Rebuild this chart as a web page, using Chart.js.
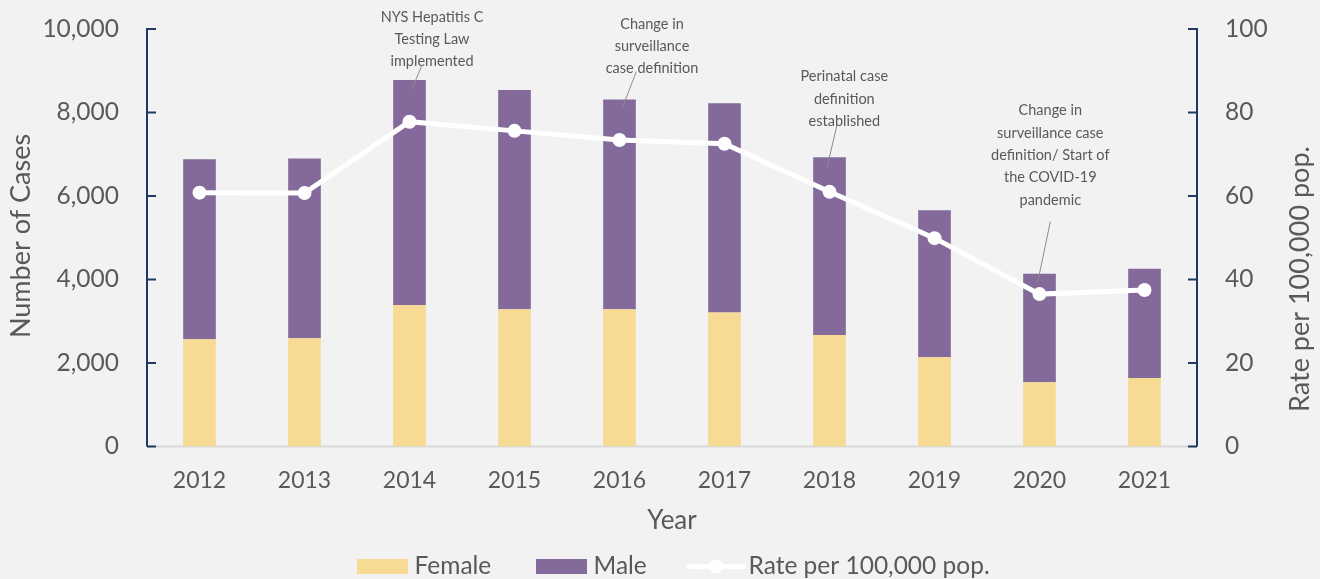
<!DOCTYPE html>
<html><head><meta charset="utf-8">
<script src="https://cdn.jsdelivr.net/npm/chart.js@4.4.0/dist/chart.umd.min.js"></script>
<style>html,body{margin:0;padding:0;background:#f2f2f2;overflow:hidden}#wrap{width:1320px;height:579px;position:relative}</style>
</head><body><div id="wrap"><canvas id="c" width="1320" height="579"></canvas></div>
<script>
const years = ['2012','2013','2014','2015','2016','2017','2018','2019','2020','2021'];
const female = [2570, 2590, 3390, 3290, 3290, 3210, 2670, 2140, 1540, 1640];
const male = [4310, 4310, 5390, 5250, 5020, 5010, 4260, 3520, 2600, 2620];
const rate = [60.8, 60.7, 77.8, 75.6, 73.4, 72.5, 61.0, 49.9, 36.5, 37.5];
const seriesNames = ['Female', 'Male', 'Rate per 100,000 pop.'];
const axisTitles = { x: 'Year', y: 'Number of Cases', y1: 'Rate per 100,000 pop.' };
const notes = [
  { index: 2, lines: ['NYS Hepatitis C', 'Testing Law', 'implemented'] },
  { index: 4, lines: ['Change in', 'surveillance', 'case definition'] },
  { index: 6, lines: ['Perinatal case', 'definition', 'established'] },
  { index: 8, lines: ['Change in', 'surveillance case', 'definition/ Start of', 'the COVID-19', 'pandemic'] }
];

const FONT = 'Lato';
const TXT = '#595959';
const FEMALE_C = '#F7DA93';
const MALE_C = '#836A9A';
const AXIS_C = '#1F3864';

// layout for annotations (offsets relative to category centre)
const noteLayout = {
  2: { dx: 22.5, y0: 17, lx1: 12.5, ly1: 65, lx2: 2.5, ly2: 89 },
  4: { dx: 32.5, y0: 24, lx1: 16.8, ly1: 71.7, lx2: 3.5, ly2: 106 },
  6: { dx: 14.8, y0: 76.7, lx1: 7.5, ly1: 125, lx2: -2.5, ly2: 167.3 },
  8: { dx: 10.8, y0: 110.7, lx1: 10.8, ly1: 221.7, lx2: -1.9, ly2: 282.7 }
};

const decor = {
  id: 'decor',
  beforeDatasetsDraw(chart) {
    const ctx = chart.ctx, a = chart.chartArea;
    const y = chart.scales.y, y1 = chart.scales.y1;
    ctx.save();
    ctx.strokeStyle = '#D9D9D9'; ctx.lineWidth = 2;
    ctx.beginPath(); ctx.moveTo(a.left, a.bottom); ctx.lineTo(a.right, a.bottom); ctx.stroke();
    ctx.strokeStyle = AXIS_C; ctx.lineWidth = 2;
    ctx.beginPath(); ctx.moveTo(a.left, a.top - 1); ctx.lineTo(a.left, a.bottom); ctx.stroke();
    y.ticks.forEach(t => { const p = y.getPixelForValue(t.value);
      ctx.beginPath(); ctx.moveTo(a.left, p); ctx.lineTo(a.left + 9, p); ctx.stroke(); });
    ctx.beginPath(); ctx.moveTo(a.right, a.top - 1); ctx.lineTo(a.right, a.bottom); ctx.stroke();
    y1.ticks.forEach(t => { const p = y1.getPixelForValue(t.value);
      ctx.beginPath(); ctx.moveTo(a.right, p); ctx.lineTo(a.right - 9, p); ctx.stroke(); });
    ctx.restore();
  },
  afterDraw(chart) {
    const ctx = chart.ctx, a = chart.chartArea, x = chart.scales.x;
    ctx.save();
    ctx.font = '14.5px ' + FONT; ctx.fillStyle = TXT; ctx.textAlign = 'center'; ctx.textBaseline = 'middle';
    notes.forEach(n => {
      const L = noteLayout[n.index]; const cx = x.getPixelForValue(n.index);
      n.lines.forEach((s, i) => ctx.fillText(s, cx + L.dx, L.y0 + i * 22.3));
      ctx.strokeStyle = '#8C8C8C'; ctx.lineWidth = 1;
      ctx.beginPath(); ctx.moveTo(cx + L.lx1, L.ly1); ctx.lineTo(cx + L.lx2, L.ly2); ctx.stroke();
    });
    ctx.fillStyle = TXT;
    ctx.font = '26px ' + FONT;
    ctx.fillText(axisTitles.x, (a.left + a.right) / 2, 521);
    ctx.font = '27px ' + FONT;
    ctx.save(); ctx.translate(21, 236); ctx.rotate(-Math.PI / 2); ctx.fillText(axisTitles.y, 0, 0); ctx.restore();
    ctx.save(); ctx.translate(1300, 279); ctx.rotate(-Math.PI / 2); ctx.fillText(axisTitles.y1, 0, 0); ctx.restore();
    const ly = 566.5;
    ctx.font = '24.5px ' + FONT;
    ctx.textAlign = 'left';
    ctx.fillStyle = FEMALE_C; ctx.fillRect(357, 559, 51, 15);
    ctx.fillStyle = TXT; ctx.fillText(seriesNames[0], 414.5, ly);
    ctx.fillStyle = MALE_C; ctx.fillRect(536, 559, 51, 15);
    ctx.fillStyle = TXT; ctx.fillText(seriesNames[1], 593.5, ly);
    ctx.strokeStyle = '#FFFFFF'; ctx.lineWidth = 5; ctx.lineCap = 'round';
    ctx.beginPath(); ctx.moveTo(689, ly); ctx.lineTo(744, ly); ctx.stroke();
    ctx.fillStyle = '#FFFFFF'; ctx.beginPath(); ctx.arc(716, ly, 7, 0, Math.PI * 2); ctx.fill();
    ctx.fillStyle = TXT; ctx.fillText(seriesNames[2], 748.5, ly);
    ctx.restore();
  }
};

Chart.defaults.font.family = FONT;
Chart.defaults.color = TXT;

function fixV(w) { return s => { s.width = w; s.paddingTop = 0; s.paddingBottom = 0; }; }

new Chart(document.getElementById('c'), {
  data: {
    labels: years,
    datasets: [
      { type: 'line', label: seriesNames[2], data: rate, yAxisID: 'y1', order: 0,
        borderColor: '#FFFFFF', borderWidth: 5, tension: 0,
        pointRadius: 7, pointBackgroundColor: '#FFFFFF', pointBorderWidth: 0, pointHoverRadius: 7 },
      { type: 'bar', label: seriesNames[0], data: female, yAxisID: 'y', order: 1,
        backgroundColor: FEMALE_C, stack: 's', categoryPercentage: 1, barPercentage: 0.311 },
      { type: 'bar', label: seriesNames[1], data: male, yAxisID: 'y', order: 2,
        backgroundColor: MALE_C, stack: 's', categoryPercentage: 1, barPercentage: 0.311 }
    ]
  },
  options: {
    responsive: false, animation: false, devicePixelRatio: 1,
    layout: { padding: { top: 29, left: 0, right: 0, bottom: 0 } },
    plugins: { legend: { display: false }, tooltip: { enabled: false } },
    scales: {
      x: { stacked: true, grid: { display: false, drawTicks: false }, border: { display: false },
           ticks: { font: { size: 23 }, color: TXT, padding: 20, maxRotation: 0 },
           afterFit(s) { s.height = 132.5; } },
      y: { stacked: true, position: 'left', min: 0, max: 10000,
           grid: { display: false, drawTicks: false }, border: { display: false },
           ticks: { stepSize: 2000, font: { size: 24.5 }, color: TXT, padding: 28,
                    callback: v => v.toLocaleString('en-US') },
           afterFit: fixV(147) },
      y1: { position: 'right', min: 0, max: 100,
           grid: { display: false, drawTicks: false }, border: { display: false },
           ticks: { stepSize: 20, font: { size: 24.5 }, color: TXT, padding: 28 },
           afterFit: fixV(123) }
    }
  },
  plugins: [decor]
});
</script></body></html>
